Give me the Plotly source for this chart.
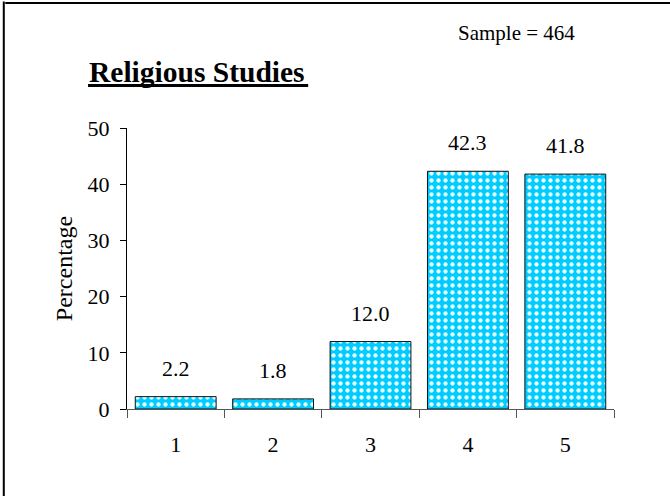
import plotly.graph_objects as go

# Survey results for the Religious Studies question
categories = ["1", "2", "3", "4", "5"]
percentages = [2.2, 1.8, 12.0, 42.3, 41.8]
y_ticks = [0, 10, 20, 30, 40, 50]
sample_size = 464
chart_title = "Religious Studies"

FONT = "Liberation Serif, Times New Roman, serif"

fig = go.Figure()
fig.add_trace(go.Bar(
    x=categories,
    y=percentages,
    width=0.83,
    marker=dict(
        color="#00CCFF",
        line=dict(color="#111111", width=1),
        pattern=dict(shape=".", fgcolor="#E8FBFF", bgcolor="#00CCFF",
                     size=7, solidity=0.3, fillmode="replace"),
    ),
    hoverinfo="skip",
))

# value labels above each bar (category axis positions are 0..n-1)
for i, val in enumerate(percentages):
    fig.add_annotation(
        x=i, y=val, text=f"{val:.1f}", showarrow=False,
        yanchor="bottom", yshift=14,
        font=dict(family=FONT, size=22, color="black"),
    )

# title with a heavy underline
fig.add_annotation(
    xref="paper", yref="paper", x=-0.082, y=1.136, xanchor="left", yanchor="bottom",
    text=f"<b>{chart_title}</b>", showarrow=False,
    font=dict(family=FONT, size=29.5, color="black"),
)
fig.add_shape(type="line", xref="paper", yref="paper",
              x0=-0.08, x1=0.372, y0=1.151, y1=1.151,
              line=dict(color="black", width=3))

fig.add_annotation(
    xref="paper", yref="paper", x=0.676, y=1.338, xanchor="left", yanchor="middle",
    text=f"Sample = {sample_size}", showarrow=False,
    font=dict(family=FONT, size=21, color="black"),
)

# outer frame (top and left edges)
fig.add_shape(type="line", xref="paper", yref="paper",
              x0=-0.25, x1=1.2, y0=1.445, y1=1.445,
              line=dict(color="black", width=2))
fig.add_shape(type="line", xref="paper", yref="paper",
              x0=-0.253, x1=-0.253, y0=-0.4, y1=1.45,
              line=dict(color="black", width=2))

fig.update_layout(
    width=670, height=496,
    margin=dict(l=127, r=56, t=128, b=87),
    paper_bgcolor="white", plot_bgcolor="white",
    showlegend=False,
    font=dict(family=FONT, size=22, color="black"),
)
fig.update_xaxes(
    type="category", tickson="boundaries", range=[-0.5, 4.5],
    showline=True, linecolor="#555555", linewidth=1,
    ticks="outside", ticklen=8, tickcolor="#555555",
    ticklabelstandoff=16,
    showgrid=False, zeroline=False,
    tickfont=dict(family=FONT, size=22, color="black"),
)
fig.update_yaxes(
    range=[0, 50], tickvals=y_ticks,
    showline=True, linecolor="black", linewidth=1,
    ticks="outside", ticklen=6, tickcolor="black",
    ticklabelstandoff=6,
    showgrid=False, zeroline=False,
    tickfont=dict(family=FONT, size=22, color="black"),
    title=dict(text="Percentage", font=dict(family=FONT, size=24, color="black"), standoff=8),
)

fig.write_html("out.html")
